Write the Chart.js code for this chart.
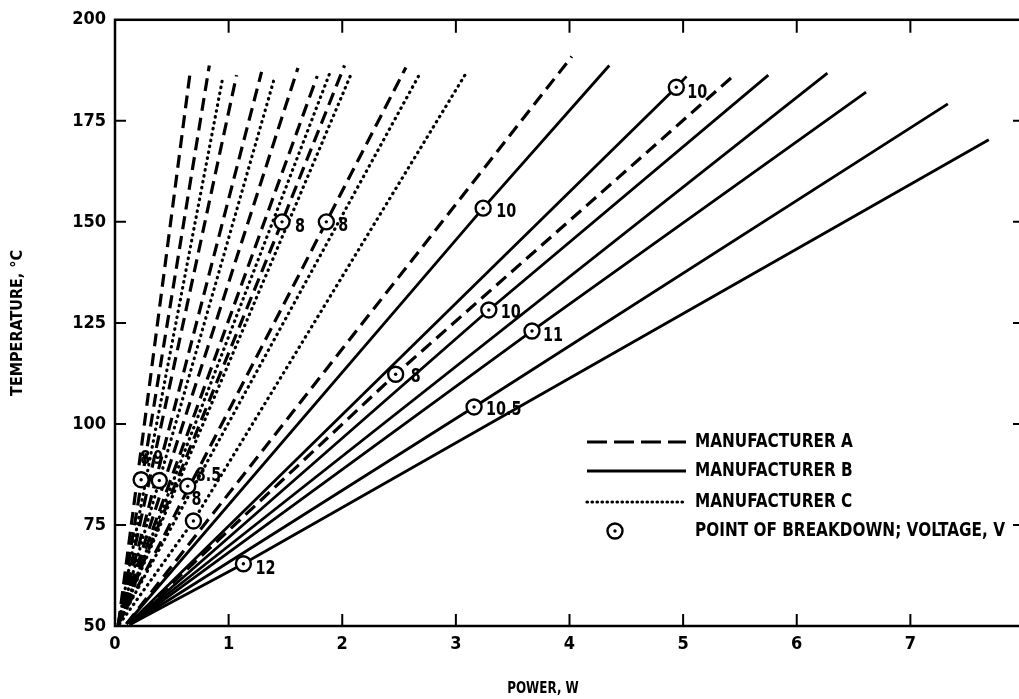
<!DOCTYPE html>
<html>
<head>
<meta charset="utf-8">
<script src="https://cdn.jsdelivr.net/npm/chart.js@4.4.1/dist/chart.umd.min.js"></script>
<style>
  html, body { margin: 0; padding: 0; background: #fff; overflow: hidden; }
  #wrap { width: 1045px; height: 699px; }
</style>
</head>
<body>
<div id="wrap"><canvas id="Chart"></canvas></div>
<script>
// values: power in W, temperature in deg C
const xTicks = [0, 1, 2, 3, 4, 5, 6, 7, 8];
const yTicks = [50, 75, 100, 125, 150, 175, 200];
const seriesNames = ['MANUFACTURER A', 'MANUFACTURER B', 'MANUFACTURER C'];
const pointName = 'POINT OF BREAKDOWN; VOLTAGE, V';

// each curve is a list of [power, temperature] pairs
const curvesA = [
  [[0.03, 50.5], [0.66, 186.7]],
  [[0.03, 50.5], [0.83, 188.7]],
  [[0.03, 50.5], [1.07, 186.3]],
  [[0.03, 50.5], [1.29, 187.1]],
  [[0.03, 50.5], [1.61, 188.1]],
  [[0.03, 50.5], [1.78, 186.1]],
  [[0.03, 50.5], [1.47, 150.0], [2.02, 188.7]],
  [[0.03, 50.5], [1.86, 150.0], [2.56, 188.2]],
  [[0.10, 50.5], [4.02, 190.9]],
  [[0.12, 50.5], [2.47, 112.3], [5.45, 186.3]]
];
const curvesB = [
  [[0.10, 50.5], [3.24, 153.4], [4.35, 188.7]],
  [[0.12, 50.5], [4.94, 183.3], [5.03, 186.0]],
  [[0.13, 50.5], [3.29, 128.2], [5.75, 186.3]],
  [[0.13, 50.5], [6.27, 186.8]],
  [[0.14, 50.5], [3.67, 123.0], [6.61, 182.1]],
  [[0.14, 50.5], [3.16, 104.2], [7.33, 179.2]],
  [[0.14, 50.5], [1.13, 65.4], [7.69, 170.3]]
];
const curvesC = [
  [[0.03, 50.5], [0.95, 185.9]],
  [[0.03, 50.5], [0.39, 86.0], [1.40, 185.3]],
  [[0.03, 50.5], [1.89, 186.8]],
  [[0.03, 50.5], [2.08, 186.7]],
  [[0.03, 50.5], [2.67, 186.0]],
  [[0.04, 50.5], [0.69, 76.0], [3.09, 186.8]]
];

const breakdownPower = [3.24, 4.94, 2.47, 3.29, 3.67, 3.16, 1.13, 1.47, 1.86, 0.23, 0.39, 0.64, 0.69];
const breakdownTemp = [153.4, 183.3, 112.3, 128.2, 123.0, 104.2, 65.4, 150.0, 150.0, 86.2, 86.0, 84.6, 76.0];
const breakdownVolts = ['10', '10', '8', '10', '11', '10.5', '12', '8', '8', '8', '9', '8.5', '8'];

const FONT = "'DejaVu Sans Condensed', 'DejaVu Sans', sans-serif";
Chart.defaults.font.family = FONT;
Chart.defaults.color = '#000';

const styleA = { borderDash: [13, 7], borderWidth: 3.2, borderCapStyle: 'butt' };
const styleB = { borderDash: [], borderWidth: 2.8, borderCapStyle: 'butt' };
const styleC = { borderDash: [0.5, 5.5], borderWidth: 3.2, borderCapStyle: 'round' };

function curveSets(curves, style, name) {
    return curves.map(c => ({
        label: name,
        data: c.map(p => ({ x: p[0], y: p[1] })),
        borderColor: '#000',
        pointRadius: 0,
        fill: false,
        tension: 0,
        ...style
    }));
}

const bpData = breakdownPower.map((x, i) => ({ x: x, y: breakdownTemp[i] }));

const datasets = [
    ...curveSets(curvesA, styleA, seriesNames[0]),
    ...curveSets(curvesB, styleB, seriesNames[1]),
    ...curveSets(curvesC, styleC, seriesNames[2]),
    {
        label: pointName, data: bpData, showLine: false, order: -1,
        pointRadius: 7.5, pointBorderWidth: 2.4,
        pointBackgroundColor: '#fff', pointBorderColor: '#000'
    },
    {
        label: 'centre', data: bpData, showLine: false, order: -2,
        pointRadius: 1.7, pointBorderWidth: 0, pointBackgroundColor: '#000'
    }
];
const bpIndex = datasets.length - 2;

// the scan uses a condensed bold face, so squeeze the text horizontally
function narrowText(ctx, text, x, y, size, squeeze, align) {
    ctx.save();
    ctx.font = 'bold ' + size + 'px ' + FONT;
    ctx.fillStyle = '#000';
    ctx.textAlign = align || 'left';
    ctx.textBaseline = 'middle';
    ctx.translate(x, y);
    ctx.scale(squeeze, 1);
    ctx.fillText(text, 0, 0);
    ctx.restore();
}

// frame plus the inward tick marks on all four sides
const frameTicks = {
    id: 'frameTicks',
    afterDraw(chart) {
        const { ctx, chartArea: a, scales: { x, y } } = chart;
        ctx.save();
        ctx.strokeStyle = '#000';
        ctx.lineWidth = 2.5;
        ctx.strokeRect(a.left, a.top, a.right - a.left, a.bottom - a.top);
        ctx.lineWidth = 2;
        ctx.beginPath();
        xTicks.slice(1, -1).forEach(v => {
            const px = x.getPixelForValue(v);
            ctx.moveTo(px, a.bottom); ctx.lineTo(px, a.bottom - 12);
            ctx.moveTo(px, a.top); ctx.lineTo(px, a.top + 13);
        });
        yTicks.slice(1, -1).forEach(v => {
            const py = y.getPixelForValue(v);
            ctx.moveTo(a.left, py); ctx.lineTo(a.left + 11, py);
            ctx.moveTo(a.right, py); ctx.lineTo(a.right - 11, py);
        });
        ctx.stroke();
        ctx.restore();
        // x axis title sits a little left of the plot centre in the original
        narrowText(ctx, 'POWER, W', 543, 689, 16, 0.83, 'center');
    }
};

// voltage next to each breakdown circle
const labelOffsets = [[13, 4], [11, 6], [15, 3], [12, 3], [11, 5], [12, 3], [12, 5], [13, 5], [12, 4], [-1, -21], [-6, -22], [8, -10], [-2, -21]];
const pointLabels = {
    id: 'pointLabels',
    afterDatasetsDraw(chart) {
        const meta = chart.getDatasetMeta(bpIndex);
        meta.data.forEach((pt, i) => {
            narrowText(chart.ctx, breakdownVolts[i], pt.x + labelOffsets[i][0], pt.y + labelOffsets[i][1], 20, 0.8);
        });
    }
};

const legendBox = {
    id: 'legendBox',
    afterDraw(chart) {
        const ctx = chart.ctx;
        const styles = [styleA, styleB, styleC];
        const rows = [442, 471, 502, 531];
        ctx.save();
        ctx.strokeStyle = '#000';
        ctx.fillStyle = '#000';
        styles.forEach((s, i) => {
            ctx.lineWidth = s.borderWidth;
            ctx.setLineDash(i === 0 ? [20, 7] : (i === 2 ? [0.5, 4.5] : s.borderDash));
            ctx.lineCap = s.borderCapStyle;
            ctx.beginPath();
            ctx.moveTo(587, rows[i]);
            ctx.lineTo(686, rows[i]);
            ctx.stroke();
        });
        ctx.setLineDash([]);
        ctx.lineWidth = 2.4;
        ctx.beginPath();
        ctx.arc(615, rows[3], 7.5, 0, Math.PI * 2);
        ctx.stroke();
        ctx.beginPath();
        ctx.arc(615, rows[3], 1.7, 0, Math.PI * 2);
        ctx.fill();
        ctx.restore();
        seriesNames.concat([pointName]).forEach((t, i) => narrowText(ctx, t, 695, rows[i], 20, 0.85));
    }
};

const ctx = document.getElementById('Chart').getContext('2d');
const myChart = new Chart(ctx, {
    type: 'line',
    data: { datasets: datasets },
    options: {
        animation: false,
        responsive: true,
        maintainAspectRatio: false,
        layout: { padding: { left: 0, right: 21, top: 13, bottom: 0 } },
        plugins: { legend: { display: false }, tooltip: { enabled: false } },
        scales: {
            x: {
                type: 'linear', min: 0, max: 8,
                afterBuildTicks: s => { s.ticks = xTicks.map(v => ({ value: v })); },
                afterFit: s => { s.height = 73; },
                grid: { display: false, drawTicks: false },
                border: { display: false },
                ticks: { font: { size: 18, weight: 'bold' }, padding: 8, maxRotation: 0, autoSkip: false },
                title: { display: false, text: 'POWER, W' }
            },
            y: {
                type: 'linear', min: 50, max: 200,
                afterBuildTicks: s => { s.ticks = yTicks.map(v => ({ value: v })); },
                afterFit: s => { s.width = 115; },
                grid: { display: false, drawTicks: false },
                border: { display: false },
                ticks: { font: { size: 18, weight: 'bold' }, padding: 9, autoSkip: false },
                title: { display: true, text: 'TEMPERATURE, °C', font: { size: 16, weight: 'bold' }, padding: { top: 8, bottom: 0 } }
            }
        }
    },
    plugins: [frameTicks, pointLabels, legendBox]
});
</script>
</body>
</html>
